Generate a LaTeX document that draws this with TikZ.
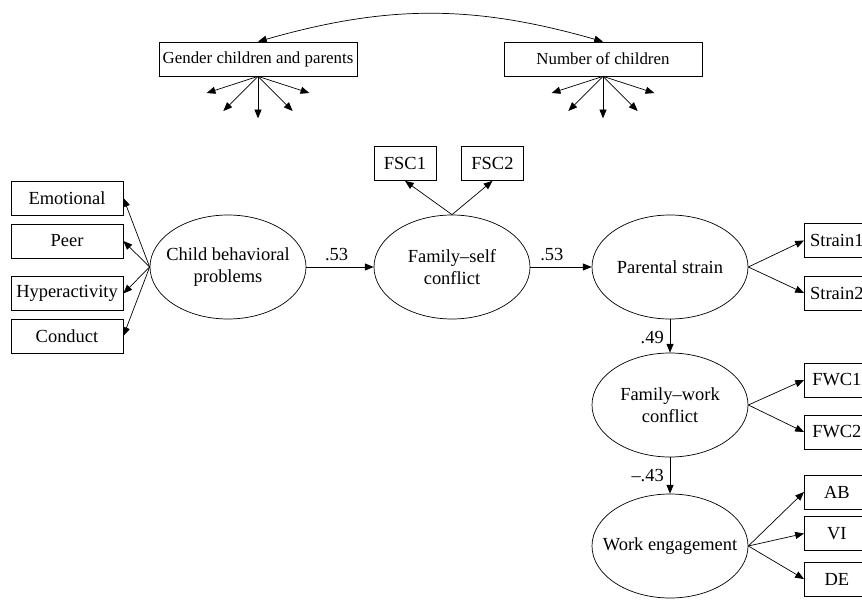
\documentclass[tikz,border=0pt]{standalone}
\usepackage{fontspec}
\setmainfont{Liberation Serif}
\usetikzlibrary{arrows.meta,shapes.geometric}

\begin{document}
\begin{tikzpicture}[
  font=\fontsize{10.5}{12.5}\selectfont,
  obs/.style={draw,rectangle,minimum height=0.68cm,inner sep=2pt},
  control/.style={obs,minimum width=3.96cm,font=\fontsize{9.6}{11.5}\selectfont},
  latent/.style={draw,ellipse,minimum width=3.12cm,minimum height=2.08cm,align=center,inner xsep=-0.3cm,inner ysep=0pt},
  arr/.style={-{Triangle[length=5pt,width=4pt]}}
]
\useasboundingbox (0,0) rectangle (17.24,12);

% control variables
\node[control] (gender) at (5.16,10.82) {Gender children and parents};
\node[control] (number) at (12.06,10.82) {Number of children};
\draw[{Triangle[length=5pt,width=4pt]}-{Triangle[length=5pt,width=4pt]}] (gender.north) to [bend left=16] (number.north);

\foreach \n/\a/\l in {1/198/1.08,2/225/0.98,3/270/0.84,4/315/0.98,5/342/1.08} {
  \path (gender.south) ++(\a:\l) coordinate (g\n);
  \draw[arr] (gender.south) -- (g\n);
  \path (number.south) ++(\a:\l) coordinate (n\n);
  \draw[arr] (number.south) -- (n\n);
}

% child behavioral problems
\node[obs,minimum width=2.24cm] (emo) at (1.34,8.04) {Emotional};
\node[obs,minimum width=2.24cm] (peer) at (1.34,7.18) {Peer};
\node[obs,minimum width=2.24cm] (hyper) at (1.34,6.13) {Hyperactivity};
\node[obs,minimum width=2.24cm] (conduct) at (1.34,5.28) {Conduct};
\node[latent] (child) at (4.56,6.66) {Child behavioral\\problems};
\foreach \b in {emo,peer,hyper,conduct}
  \draw[arr] (child.west) -- (\b.east);

% family-self conflict
\node[latent] (fsc) at (9.04,6.66) {Family--self\\conflict};
\node[obs,minimum width=1.24cm] (fsc1) at (8.1,8.73) {FSC1};
\node[obs,minimum width=1.24cm] (fsc2) at (9.85,8.73) {FSC2};
\draw[arr] (fsc.north) -- (fsc1.south);
\draw[arr] (fsc.north) -- (fsc2.south);

% parental strain
\node[latent] (strain) at (13.4,6.66) {Parental strain};
\node[obs,minimum width=1.3cm,anchor=west] (str1) at (16.08,7.19) {Strain1};
\node[obs,minimum width=1.3cm,anchor=west] (str2) at (16.08,6.14) {Strain2};
\draw[arr] (strain.east) -- (str1.west);
\draw[arr] (strain.east) -- (str2.west);

% family-work conflict
\node[latent] (fwc) at (13.4,3.9) {Family--work\\conflict};
\node[obs,minimum width=1.3cm,anchor=west] (fwc1) at (16.08,4.4) {FWC1};
\node[obs,minimum width=1.3cm,anchor=west] (fwc2) at (16.08,3.36) {FWC2};
\draw[arr] (fwc.east) -- (fwc1.west);
\draw[arr] (fwc.east) -- (fwc2.west);

% work engagement
\node[latent] (work) at (13.4,1.08) {Work engagement};
\node[obs,minimum width=1.3cm,anchor=west] (ab) at (16.08,2.16) {AB};
\node[obs,minimum width=1.3cm,anchor=west] (vi) at (16.08,1.33) {VI};
\node[obs,minimum width=1.3cm,anchor=west] (de) at (16.08,0.42) {DE};
\draw[arr] (work.east) -- (ab.west);
\draw[arr] (work.east) -- (vi.west);
\draw[arr] (work.east) -- (de.west);

% structural paths
\draw[arr] (child) -- node[above,pos=0.45] {.53} (fsc);
\draw[arr] (fsc) -- node[above,pos=0.35] {.53} (strain);
\draw[arr] (strain) -- node[left,pos=0.55] {.49} (fwc);
\draw[arr] (fwc) -- node[left] {--.43} (work);
\end{tikzpicture}
\end{document}
